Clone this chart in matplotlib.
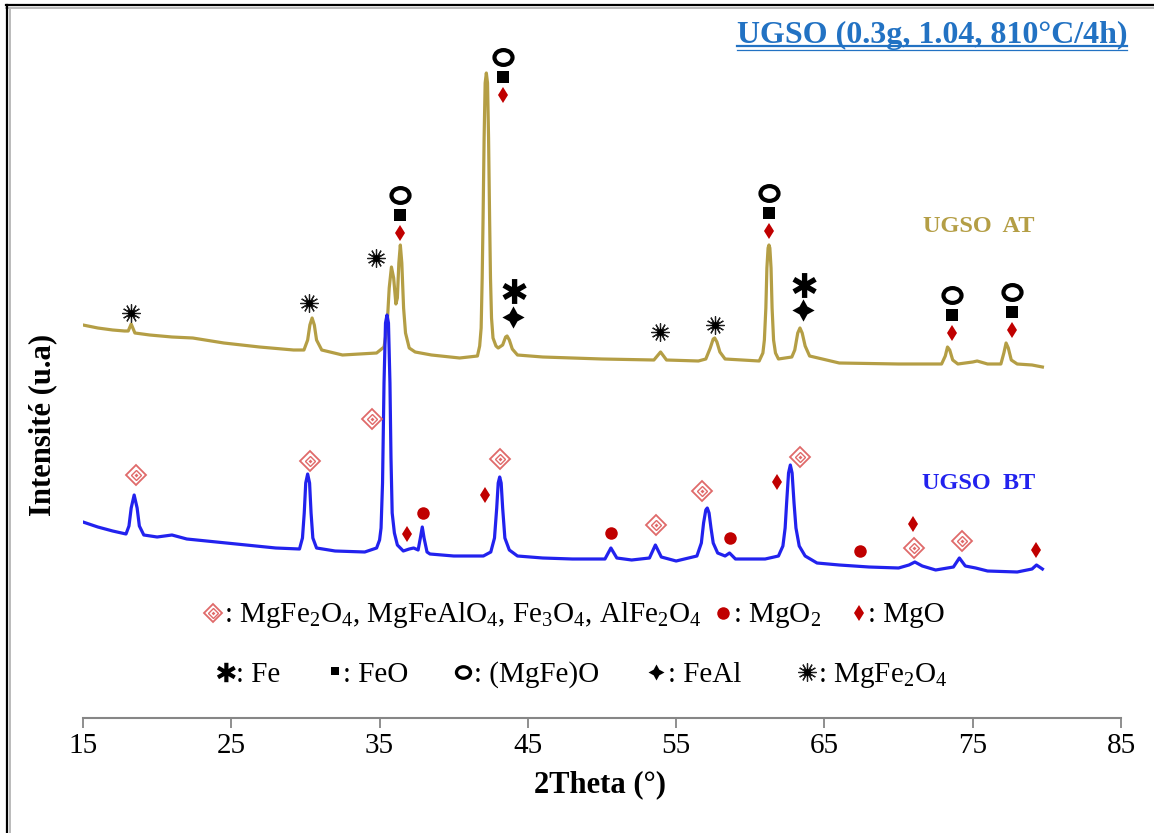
import matplotlib
matplotlib.use("Agg")
import matplotlib.pyplot as plt
from matplotlib.textpath import TextPath
from matplotlib.font_manager import FontProperties
from matplotlib.path import Path
from matplotlib.transforms import Affine2D

plt.rcParams['font.family'] = ['Liberation Serif', 'DejaVu Sans']
plt.rcParams['mathtext.fontset'] = 'custom'
plt.rcParams['mathtext.rm'] = 'Liberation Serif'
plt.rcParams['mathtext.it'] = 'Liberation Serif:italic'
plt.rcParams['mathtext.bf'] = 'Liberation Serif:bold'

# ---------------- data ----------------
# UGSO after test (AT): 2theta and intensity (a.u., offset pattern)
at_2theta = [15.0, 16.0, 17.0, 17.8, 18.05, 18.25, 18.5, 19.5, 21.0, 22.4, 24.5, 26.9,
             29.2, 29.9, 30.15, 30.3, 30.45, 30.6, 30.75, 31.1, 32.5, 34.8, 35.3, 35.5,
             35.65, 35.8, 35.95, 36.1, 36.2, 36.3, 36.4, 36.5, 36.62, 36.75, 37.0, 37.4,
             38.5, 40.4, 41.6, 41.75, 41.85, 41.92, 41.98, 42.05, 42.12, 42.2, 42.28, 42.35,
             42.42, 42.48, 42.55, 42.65, 42.85, 43.0, 43.3, 43.5, 43.6, 43.75, 43.95, 44.3,
             46.0, 50.0, 53.5, 53.95, 54.35, 56.5, 57.0, 57.3, 57.5, 57.6, 57.75, 57.95,
             58.3, 60.6, 60.85, 60.95, 61.05, 61.12, 61.2, 61.26, 61.32, 61.4, 61.47, 61.57,
             61.7, 61.9, 62.8, 63.0, 63.2, 63.35, 63.5, 63.7, 64.0, 66.0, 70.0, 72.9,
             73.15, 73.3, 73.45, 73.65, 74.0, 75.0, 75.3, 76.0, 76.9, 77.1, 77.25, 77.4,
             77.6, 78.0, 79.0, 79.7]
at_int = [393, 390, 388, 387, 387, 394, 385, 383, 381, 380, 375, 371,
          368, 368, 378, 393, 400, 393, 378, 368, 363, 365, 371, 390,
          430, 451, 440, 414, 420, 455, 473, 455, 410, 385, 370, 366,
          363, 360, 362, 372, 390, 440, 500, 580, 635, 645, 635, 580,
          500, 440, 400, 380, 372, 370, 373, 381, 382, 378, 369, 363,
          361, 359, 358, 366, 358, 357, 359, 370, 379, 380, 376, 366,
          359, 357, 365, 378, 410, 450, 470, 473, 470, 450, 410, 378,
          365, 359, 361, 368, 385, 390, 385, 372, 362, 355, 354, 354,
          362, 371, 368, 358, 354, 356, 357, 354, 354, 365, 375, 370,
          358, 354, 353, 351]

# UGSO before test (BT)
bt_2theta = [15.0, 16.0, 17.0, 17.9, 18.1, 18.25, 18.45, 18.65, 18.8, 19.1, 20.0, 21.0,
             22.0, 24.0, 26.0, 28.0, 29.6, 29.8, 29.92, 30.02, 30.15, 30.28, 30.38, 30.5,
             30.75, 32.0, 34.0, 34.8, 35.0, 35.1, 35.2, 35.3, 35.4, 35.5, 35.6, 35.7,
             35.77, 35.85, 36.0, 36.2, 36.6, 37.0, 37.3, 37.6, 37.75, 37.88, 38.0, 38.2,
             38.4, 40.0, 42.0, 42.5, 42.75, 42.9, 43.0, 43.1, 43.2, 43.3, 43.45, 43.75,
             44.3, 46.0, 48.0, 50.2, 50.6, 51.0, 52.0, 53.2, 53.6, 54.0, 55.0, 56.4,
             56.7, 56.85, 57.0, 57.1, 57.22, 57.35, 57.5, 57.8, 58.3, 58.6, 59.0, 61.0,
             61.9, 62.2, 62.35, 62.45, 62.58, 62.7, 62.82, 62.95, 63.08, 63.3, 63.7, 64.5,
             66.0, 68.0, 70.0, 70.7, 71.1, 71.6, 72.5, 73.7, 74.1, 74.5, 75.2, 76.0,
             78.0, 79.0, 79.3, 79.7]
bt_int = [196, 191, 187, 184, 192, 210, 223, 210, 192, 183, 181, 183,
          179, 176, 173, 170, 169, 180, 205, 235, 244, 235, 205, 180,
          170, 167, 166, 170, 178, 190, 235, 335, 395, 403, 395, 335,
          260, 205, 185, 173, 167, 169, 170, 168, 180, 191, 180, 166,
          164, 162, 162, 166, 180, 210, 235, 241, 235, 210, 180, 168,
          162, 160, 159, 159, 170, 160, 158, 160, 173, 161, 157, 162,
          175, 195, 208, 210, 205, 190, 175, 165, 162, 165, 159, 159,
          162, 172, 190, 215, 245, 253, 245, 215, 190, 172, 162, 155,
          153, 151, 150, 153, 156, 152, 148, 151, 160, 152, 150, 147,
          146, 149, 153, 149]

# phase identification marks: (2theta, intensity level of the symbol)
at_ferrite = [(18.24, 405), (30.24, 415), (34.76, 460), (53.9, 386), (57.6, 393)]
at_groups_2theta = [36.38, 43.32, 61.26, 73.6, 77.64]
at_groups_top = [523, 661, 525, 423, 426]
at_fe_feal = [(44.0, 427, 401), (63.55, 433, 408)]

bt_spinel = [(18.57, 243), (30.31, 257), (34.49, 299), (43.12, 259), (53.64, 193),
             (56.74, 227), (63.35, 261), (71.04, 170), (74.27, 177)]
bt_mgo2 = [(37.93, 205), (50.6, 185), (58.63, 180), (67.39, 167)]
bt_mgo = [(36.85, 184), (42.11, 223), (61.8, 236), (70.97, 194), (79.26, 168)]

x_ticks = [15, 25, 35, 45, 55, 65, 75, 85]

# ---------------- styles ----------------
AT_COLOR = '#B49E45'
BT_COLOR = '#2222EE'
SPINEL = '#E06A6A'
RED = '#C00000'
TITLE_BLUE = '#2272C3'
AXIS_GREY = '#868686'


def glyph_marker(char, weight='normal'):
    """Centred marker path built from a DejaVu Sans glyph."""
    tp = TextPath((0, 0), char, size=10,
                  prop=FontProperties(family='DejaVu Sans', weight=weight))
    v = tp.vertices.copy()
    cx = (v[:, 0].min() + v[:, 0].max()) / 2
    cy = (v[:, 1].min() + v[:, 1].max()) / 2
    v[:, 0] -= cx
    v[:, 1] -= cy
    return Path(v, tp.codes)


FE_MARK = glyph_marker('\u2731')
RING_MARK = Path.unit_circle().transformed(Affine2D().scale(1.0, 0.82))

W, H = 1154, 833
fig = plt.figure(figsize=(W / 100, H / 100), dpi=100)
ax = fig.add_axes([83 / W, 1 - 718 / H, (1121 - 83) / W, (718 - 20) / H])
ax.set_xlim(15, 85)
ax.set_ylim(0, 698)

ax.plot(at_2theta, at_int, color=AT_COLOR, lw=2.3, solid_joinstyle='round')
ax.plot(bt_2theta, bt_int, color=BT_COLOR, lw=2.3, solid_joinstyle='round')

for s in ['top', 'right', 'left']:
    ax.spines[s].set_visible(False)
ax.spines['bottom'].set_color(AXIS_GREY)
ax.spines['bottom'].set_linewidth(1.5)
ax.set_yticks([])
ax.set_xticks(x_ticks)
ax.tick_params(axis='x', direction='out', length=7, width=1.3, color=AXIS_GREY,
               labelsize=21, pad=4)


def symbol(axis, kind, x, y, k=1.0):
    """Draw one phase-identification symbol centred at (x, y)."""
    if kind == 'spinel':
        axis.plot(x, y, 'D', ms=10 * k, mfc='white', mec=SPINEL, mew=1.3, clip_on=False)
        axis.plot(x, y, 'D', ms=5.5 * k, mfc='none', mec=SPINEL, mew=1.0, clip_on=False)
        axis.plot(x, y, 'D', ms=2.0 * k, mfc=SPINEL, mec=SPINEL, mew=0, clip_on=False)
    elif kind == 'mgo2':
        axis.plot(x, y, 'o', ms=9 * k, color=RED, mew=0, clip_on=False)
    elif kind == 'mgo':
        axis.plot(x, y, 'd', ms=8 * k, color=RED, mew=0, clip_on=False)
    elif kind == 'feo':
        axis.plot(x, y, 's', ms=8 * k, color='black', mew=0, clip_on=False)
    elif kind == 'wustite':
        axis.plot(x, y, marker=RING_MARK, ms=13 * k, mfc='white', mec='black',
                  mew=3.0 * k, clip_on=False)
    elif kind == 'fe':
        axis.plot(x, y, marker=FE_MARK, ms=19 * k, color='black', mew=0, clip_on=False)
    elif kind == 'feal':
        axis.plot(x, y, marker=(4, 1, 0), ms=16 * k, color='black', mew=0, clip_on=False)
    elif kind == 'ferrite':
        axis.plot(x, y, marker=(12, 2, 0), ms=13 * k, color='#222222', mew=0.9, clip_on=False)
        axis.plot(x, y, marker=(8, 1, 0), ms=8 * k, color='black', mew=0, clip_on=False)


# AT annotations
for x, y in at_ferrite:
    symbol(ax, 'ferrite', x, y)
for x, top in zip(at_groups_2theta, at_groups_top):
    symbol(ax, 'wustite', x, top)
    symbol(ax, 'feo', x, top - 20)
    symbol(ax, 'mgo', x, top - 38)
for x, y_fe, y_feal in at_fe_feal:
    symbol(ax, 'fe', x, y_fe)
    symbol(ax, 'feal', x, y_feal)

# BT annotations
for x, y in bt_spinel:
    symbol(ax, 'spinel', x, y)
for x, y in bt_mgo2:
    symbol(ax, 'mgo2', x, y)
for x, y in bt_mgo:
    symbol(ax, 'mgo', x, y)

# overlay in pixel coordinates for labels, legend and frame
ov = fig.add_axes([0, 0, 1, 1], zorder=5)
ov.set_xlim(0, W)
ov.set_ylim(H, 0)
ov.axis('off')
ov.patch.set_alpha(0)

ov.text(979, 226, 'UGSO  AT', color=AT_COLOR, fontsize=17.5, fontweight='bold',
        ha='center', va='center')
ov.text(979, 483, 'UGSO  BT', color=BT_COLOR, fontsize=17.5, fontweight='bold',
        ha='center', va='center')

title = ov.text(932, 43, 'UGSO (0.3g, 1.04, 810\u00b0C/4h)', color=TITLE_BLUE,
                fontsize=23, fontweight='bold', ha='center', va='baseline')

ov.text(600, 785, '2Theta (\u00b0)', fontsize=22, fontweight='bold', ha='center', va='center')
ov.text(43, 425, 'Intensit\u00e9 (u.a)', fontsize=22, fontweight='bold', ha='center',
        va='center', rotation=90)

# legend rows
LEG = 21
symbol(ov, 'spinel', 213, 613, 0.95)
ov.text(224, 622, r': MgFe$_2$O$_4$, MgFeAlO$_4$, Fe$_3$O$_4$, AlFe$_2$O$_4$',
        fontsize=LEG, va='baseline', ha='left')
symbol(ov, 'mgo2', 723, 613)
ov.text(733, 622, r': MgO$_2$', fontsize=LEG, va='baseline', ha='left')
symbol(ov, 'mgo', 859, 613)
ov.text(868, 622, ': MgO', fontsize=LEG, va='baseline', ha='left')

symbol(ov, 'fe', 225, 672, 0.78)
ov.text(236, 682, ': Fe', fontsize=LEG, va='baseline', ha='left')
symbol(ov, 'feo', 335, 671, 0.75)
ov.text(343, 682, ': FeO', fontsize=LEG, va='baseline', ha='left')
symbol(ov, 'wustite', 463, 672, 0.78)
ov.text(474, 682, ': (MgFe)O', fontsize=LEG, va='baseline', ha='left')
symbol(ov, 'feal', 656, 672, 0.72)
ov.text(668, 682, ': FeAl', fontsize=LEG, va='baseline', ha='left')
symbol(ov, 'ferrite', 807, 672, 1.0)
ov.text(818, 682, r': MgFe$_2$O$_4$', fontsize=LEG, va='baseline', ha='left')

# frame edge on top and left
ov.plot([6, W], [5, 5], color='black', lw=1.6, clip_on=False)
ov.plot([6, W], [7.5, 7.5], color='#BBBBBB', lw=1.4, clip_on=False)
ov.plot([7, 7], [5, H], color='black', lw=1.6, clip_on=False)
ov.plot([9.5, 9.5], [7.5, H], color='#BBBBBB', lw=1.4, clip_on=False)

# underline the title
fig.canvas.draw()
bb = title.get_window_extent()
x0, x1 = bb.x0, bb.x1
ov.plot([x0, x1], [46, 46], color=TITLE_BLUE, lw=1.6)
ov.plot([x0, x1], [50, 50], color=TITLE_BLUE, lw=0.9)

fig.savefig('out.png', dpi=100, facecolor='white')
